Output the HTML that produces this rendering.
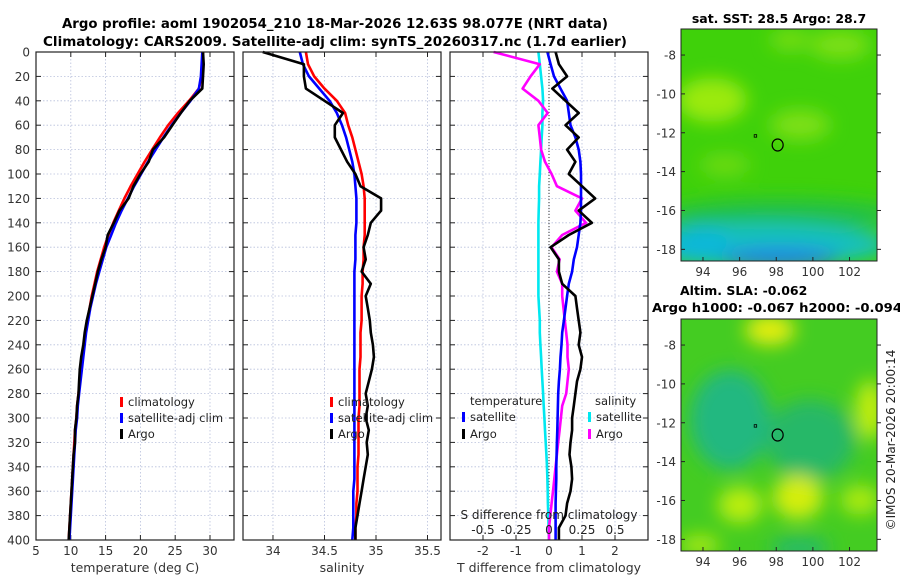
<!DOCTYPE html>
<html><head><meta charset="utf-8"><style>
body{margin:0;background:#fff;width:900px;height:580px;overflow:hidden}
svg text{font-family:"DejaVu Sans","Liberation Sans",sans-serif}
</style></head><body>
<svg id="fig" width="900" height="580" viewBox="0 0 900 580" xmlns="http://www.w3.org/2000/svg">
<defs>
<filter id="blur1" x="-50%" y="-50%" width="200%" height="200%"><feGaussianBlur stdDeviation="9"/></filter>
<clipPath id="clipTop"><rect x="681" y="29" width="196" height="232"/></clipPath>
<clipPath id="clipBot"><rect x="681" y="319" width="196" height="232"/></clipPath>
</defs>
<text x="335" y="28" font-size="13" font-weight="bold" text-anchor="middle" textLength="546" lengthAdjust="spacingAndGlyphs">Argo profile: aoml 1902054_210 18-Mar-2026 12.63S 98.077E (NRT data)</text>
<text x="335" y="46" font-size="13" font-weight="bold" text-anchor="middle" textLength="584" lengthAdjust="spacingAndGlyphs">Climatology: CARS2009. Satellite-adj clim: synTS_20260317.nc (1.7d earlier)</text>
<g id="plots"></g>
<g clip-path="url(#clipTop)">
<rect x="681" y="29" width="196" height="232" fill="#3fd10a"/>
<g filter="url(#blur1)">
<ellipse cx="712" cy="100" rx="35" ry="22" fill="#9bea10"/>
<ellipse cx="800" cy="125" rx="30" ry="15" fill="#7ee012"/>
<ellipse cx="840" cy="45" rx="30" ry="14" fill="#7ee012"/>
<ellipse cx="790" cy="40" rx="20" ry="10" fill="#78de12"/>
<ellipse cx="725" cy="165" rx="25" ry="10" fill="#70dc18"/>
<ellipse cx="780" cy="215" rx="120" ry="16" fill="#22c048"/>
<ellipse cx="760" cy="245" rx="130" ry="22" fill="#12c0c0"/>
<ellipse cx="780" cy="258" rx="60" ry="10" fill="#2080e8"/>
<ellipse cx="700" cy="245" rx="30" ry="20" fill="#10b8d8"/>
</g>
</g>
<rect x="681" y="29" width="196" height="232" fill="none" stroke="#222"/>
<text x="779" y="23" font-size="12.5" font-weight="bold" text-anchor="middle">sat. SST: 28.5 Argo: 28.7</text>
<g clip-path="url(#clipBot)">
<rect x="681" y="319" width="196" height="232" fill="#44cc22"/>
<g filter="url(#blur1)">
<ellipse cx="730" cy="420" rx="40" ry="50" fill="#22b880"/>
<ellipse cx="810" cy="440" rx="45" ry="40" fill="#28b868"/>
<ellipse cx="770" cy="330" rx="25" ry="15" fill="#e6ee10"/>
<ellipse cx="740" cy="505" rx="22" ry="18" fill="#bbee10"/>
<ellipse cx="798" cy="497" rx="25" ry="22" fill="#d4ee10"/>
<ellipse cx="870" cy="410" rx="14" ry="30" fill="#c4ee10"/>
<ellipse cx="860" cy="500" rx="20" ry="15" fill="#aaea10"/>
<ellipse cx="700" cy="545" rx="20" ry="10" fill="#aaea10"/>
<ellipse cx="800" cy="548" rx="30" ry="10" fill="#22b870"/>
</g>
</g>
<rect x="681" y="319" width="196" height="232" fill="none" stroke="#222"/>
<text x="680" y="295" font-size="12.5" font-weight="bold">Altim. SLA: -0.062</text>
<text x="652" y="312" font-size="12.5" font-weight="bold" textLength="250" lengthAdjust="spacingAndGlyphs">Argo h1000: -0.067 h2000: -0.094</text>
<text transform="translate(895,440) rotate(-90)" font-size="12" text-anchor="middle" fill="#222">©IMOS 20-Mar-2026 20:00:14</text>
<g id="maps"></g>
</svg>
<script>
const depths=[0,10,20,30,40,50,60,70,80,90,100,110,120,130,140,150,160,170,180,190,200,210,220,230,240,250,260,270,280,290,300,310,320,330,340,350,360,370,380,390,400];
const tClim=[29,28.9,28.8,28.4,27,25.4,24,22.8,21.7,20.6,19.6,18.6,17.7,16.9,16.1,15.4,14.8,14.3,13.8,13.4,13,12.7,12.4,12.1,11.9,11.7,11.5,11.3,11.1,10.9,10.8,10.6,10.5,10.4,10.3,10.2,10.1,10,9.9,9.8,9.7];
const tSat=[28.9,28.8,28.7,28.4,27.2,25.8,24.5,23.3,22.2,21.1,20.1,19.1,18.2,17.3,16.5,15.8,15.1,14.6,14.1,13.6,13.2,12.8,12.5,12.2,12,11.8,11.6,11.4,11.2,11,10.9,10.7,10.6,10.5,10.4,10.3,10.2,10.1,10,9.9,9.8];
const tArgo=[29,29.1,29,28.9,27.1,25.8,24.6,23.4,21.8,21.2,20,19,18.3,17,16.2,15.3,15,14.4,13.9,13.5,13.1,12.7,12.3,12,11.8,11.5,11.3,11.2,11.1,10.9,10.8,10.6,10.6,10.4,10.3,10.2,10.1,10,9.9,9.8,9.7];
const sClim=[34.32,34.34,34.4,34.5,34.62,34.7,34.73,34.77,34.8,34.83,34.86,34.88,34.89,34.89,34.89,34.89,34.88,34.88,34.87,34.87,34.86,34.86,34.86,34.85,34.85,34.85,34.84,34.84,34.84,34.84,34.83,34.83,34.83,34.83,34.82,34.82,34.82,34.81,34.81,34.8,34.8];
const sSat=[34.26,34.29,34.35,34.45,34.55,34.62,34.67,34.71,34.74,34.77,34.79,34.8,34.81,34.81,34.81,34.8,34.8,34.8,34.79,34.79,34.79,34.79,34.79,34.79,34.79,34.79,34.79,34.79,34.79,34.79,34.79,34.79,34.79,34.79,34.79,34.79,34.78,34.78,34.78,34.78,34.77];
const sArgo=[33.9,34.3,34.3,34.32,34.5,34.68,34.6,34.6,34.66,34.72,34.8,34.85,35.05,35.05,34.95,34.92,34.88,34.9,34.86,34.95,34.9,34.92,34.94,34.95,34.97,34.98,34.96,34.93,34.9,34.92,34.9,34.93,34.91,34.92,34.9,34.88,34.86,34.84,34.82,34.8,34.8];
const dTSat=[-0.05,0.05,0.15,0.35,0.55,0.6,0.65,0.8,0.9,0.95,0.97,0.97,0.97,0.97,0.95,0.9,0.85,0.75,0.7,0.6,0.55,0.5,0.45,0.4,0.38,0.35,0.33,0.3,0.28,0.27,0.26,0.25,0.24,0.23,0.22,0.22,0.21,0.2,0.2,0.2,0.2];
const dTArgo=[0.2,0.3,0.55,0.1,0.5,0.9,0.5,0.9,0.55,0.8,0.6,1.0,1.4,0.9,1.3,0.6,0.05,0.3,0.3,0.4,0.8,0.85,0.9,0.95,0.9,1.0,0.95,0.85,0.8,0.75,0.7,0.7,0.65,0.62,0.68,0.7,0.65,0.55,0.5,0.3,0.3];
const dSArgo=[-0.42,-0.07,-0.14,-0.2,-0.08,-0.01,-0.08,-0.07,-0.06,-0.03,0.02,0.06,0.25,0.2,0.28,0.1,0.02,0.08,0.06,0.1,0.1,0.11,0.12,0.13,0.14,0.14,0.15,0.14,0.13,0.1,0.09,0.08,0.07,0.06,0.05,0.04,0.03,0.02,0.01,0,0];
const dSSat=[-0.08,-0.07,-0.06,-0.05,-0.045,-0.05,-0.05,-0.055,-0.06,-0.065,-0.07,-0.075,-0.075,-0.078,-0.08,-0.08,-0.08,-0.08,-0.08,-0.08,-0.08,-0.075,-0.07,-0.07,-0.065,-0.06,-0.055,-0.05,-0.045,-0.04,-0.035,-0.03,-0.025,-0.02,-0.015,-0.012,-0.01,-0.008,-0.005,-0.003,0];
const depthTicks=[0,20,40,60,80,100,120,140,160,180,200,220,240,260,280,300,320,340,360,380,400];
const tTicks=[5,10,15,20,25,30];
const sTicks=[34,34.5,35,35.5];
const dTTicks=[-2,-1,0,1,2];
const dSTicks=[-0.5,-0.25,0,0.25,0.5];
const lonTicks=[94,96,98,100,102];
const latTicks=[-8,-10,-12,-14,-16,-18];
const floatLon=98.077, floatLat=-12.63;

const NS='http://www.w3.org/2000/svg';
const root=document.getElementById('plots');
function mk(tag,attrs,parent){const e=document.createElementNS(NS,tag);for(const k in attrs)e.setAttribute(k,attrs[k]);(parent||root).appendChild(e);return e;}
const Y0=52,Y1=540;
const yD=d=>Y0+(d/400)*(Y1-Y0);
function panel(name,x0,x1,xmin,xmax,ticks,labelFmt,xlabel,gridTicks){
  const g=mk('g',{});
  
  
  const xs=v=>x0+(v-xmin)/(xmax-xmin)*(x1-x0);
  (gridTicks||ticks).forEach(t=>{const x=xs(t);if(x>x0+1&&x<x1-1){const l=mk('line',{x1:x,x2:x,y1:Y0,y2:Y1,stroke:'#b8c0dc','stroke-width':0.8,'stroke-dasharray':'1.5,2'},g);}});
  depthTicks.forEach(d=>{const y=yD(d);if(d>0&&d<400){const l=mk('line',{x1:x0,x2:x1,y1:y,y2:y,stroke:'#b8c0dc','stroke-width':0.8,'stroke-dasharray':'1.5,2'},g);}
    mk('line',{x1:x0,x2:x0+5,y1:y,y2:y,stroke:'#222'},g);mk('line',{x1:x1-5,x2:x1,y1:y,y2:y,stroke:'#222'},g);});
  ticks.forEach(t=>{const x=xs(t);mk('line',{x1:x,x2:x,y1:Y1,y2:Y1-5,stroke:'#222'},g);mk('line',{x1:x,x2:x,y1:Y0,y2:Y0+5,stroke:'#222'},g);
    const tx=mk('text',{x:x,y:Y1+15,'font-size':12,'text-anchor':'middle',fill:'#333'},g);tx.textContent=labelFmt(t);});
  const xl=mk('text',{x:(x0+x1)/2,y:572,'font-size':12.5,'text-anchor':'middle',fill:'#333'},g);xl.textContent=xlabel;
  
  return {g,xs};
}
function line(p,vals,color,name,xs){
  const pts=vals.map((v,i)=>xs(v).toFixed(1)+','+yD(depths[i]).toFixed(1)).join(' ');
  const pl=mk('polyline',{points:pts,fill:'none',stroke:color,'stroke-width':2.6,'stroke-linejoin':'round'},p.g);
  
  
}
function frame(p,x0,x1){const r=mk('rect',{x:x0,y:Y0,width:x1-x0,height:Y1-Y0,fill:'none',stroke:'#222','stroke-width':1.2},p.g);}
function legend(p,x,y,color,label){
  const m=mk('rect',{x:x,y:y-9,width:3,height:10,fill:color},p.g);
  const t=mk('text',{x:x+8,y:y,'font-size':11.5,fill:'#222'},p.g);t.textContent=label;
}
const p1=panel('temperature-panel',36,234,5,33.45,tTicks,String,'temperature (deg C)');
depthTicks.forEach(d=>{const t=mk('text',{x:30,y:yD(d)+4.5,'font-size':12,'text-anchor':'end',fill:'#333'},p1.g);t.textContent=d;});
line(p1,tClim,'#ff0000','temp-climatology-line',p1.xs);
line(p1,tSat,'#0000ff','temp-satellite-line',p1.xs);
line(p1,tArgo,'#000000','temp-argo-line',p1.xs);
legend(p1,120,406,'#ff0000','climatology');legend(p1,120,422,'#0000ff','satellite-adj clim');legend(p1,120,438,'#000000','Argo');
frame(p1,36,234);
const p2=panel('salinity-panel',243,441,33.709,35.631,sTicks,String,'salinity');
line(p2,sClim,'#ff0000','sal-climatology-line',p2.xs);
line(p2,sSat,'#0000ff','sal-satellite-line',p2.xs);
line(p2,sArgo,'#000000','sal-argo-line',p2.xs);
legend(p2,330,406,'#ff0000','climatology');legend(p2,330,422,'#0000ff','satellite-adj clim');legend(p2,330,438,'#000000','Argo');
frame(p2,243,441);
const p3=panel('difference-panel',450,648,-3,3,dTTicks,String,'T difference from climatology',[-3,-2,-1,0,1,2,3]);
const xsS=v=>p3.xs(v*4);
const zl=mk('line',{x1:p3.xs(0),x2:p3.xs(0),y1:Y0,y2:Y1,stroke:'#333','stroke-width':1,'stroke-dasharray':'1,2'},p3.g);

line(p3,dSSat,'#00e8f0','sal-diff-satellite-line',xsS);
line(p3,dSArgo,'#ff00ff','sal-diff-argo-line',xsS);
line(p3,dTSat,'#0000ff','temp-diff-satellite-line',p3.xs);
line(p3,dTArgo,'#000000','temp-diff-argo-line',p3.xs);
{const t=mk('text',{x:470,y:405,'font-size':11.5,fill:'#222'},p3.g);t.textContent='temperature';
 const t2=mk('text',{x:595,y:405,'font-size':11.5,fill:'#222'},p3.g);t2.textContent='salinity';}
legend(p3,462,421,'#0000ff','satellite');legend(p3,462,438,'#000000','Argo');
legend(p3,588,421,'#00e8f0','satellite');legend(p3,588,438,'#ff00ff','Argo');
{const t=mk('text',{x:549,y:519,'font-size':12,'text-anchor':'middle',fill:'#222'},p3.g);t.textContent='S difference from climatology';}
dSTicks.forEach(v=>{const t=mk('text',{x:xsS(v),y:534,'font-size':12,'text-anchor':'middle',fill:'#222'},p3.g);t.textContent=String(v);});
frame(p3,450,648);

const mroot=document.getElementById('maps');
function mapAxes(name,y0,y1,latTop,latBot){
  const g=document.createElementNS(NS,'g');mroot.appendChild(g);
  
  
  const lx=lon=>681+(lon-92.8)/(103.5-92.8)*196;
  const ly=lat=>y0+(latTop-lat)/(latTop-latBot)*(y1-y0);
  lonTicks.forEach(l=>{const x=lx(l);mk('line',{x1:x,x2:x,y1:y1,y2:y1-4,stroke:'#222'},g);
    const t=mk('text',{x:x,y:y1+15,'font-size':12,'text-anchor':'middle',fill:'#333'},g);t.textContent=l;});
  latTicks.forEach(l=>{const y=ly(l);mk('line',{x1:681,x2:685,y1:y,y2:y,stroke:'#222'},g);mk('line',{x1:877,x2:881,y1:y,y2:y,stroke:'#222'},g);
    const t=mk('text',{x:676,y:y+4.5,'font-size':12,'text-anchor':'end',fill:'#333'},g);t.textContent=l;});
  const c=mk('ellipse',{cx:lx(floatLon),cy:ly(floatLat),rx:5.5,ry:6,fill:'none',stroke:'#000','stroke-width':1.2},g);
  
  mk('rect',{x:lx(96.85)-1,y:ly(-12.15)-1,width:2.5,height:2.5,fill:'none',stroke:'#000','stroke-width':0.8},g);
}
mapAxes('sst-map-axes',29,261,-6.66,-18.6);
mapAxes('sla-map-axes',319,551,-6.66,-18.6);
</script>
</body></html>
